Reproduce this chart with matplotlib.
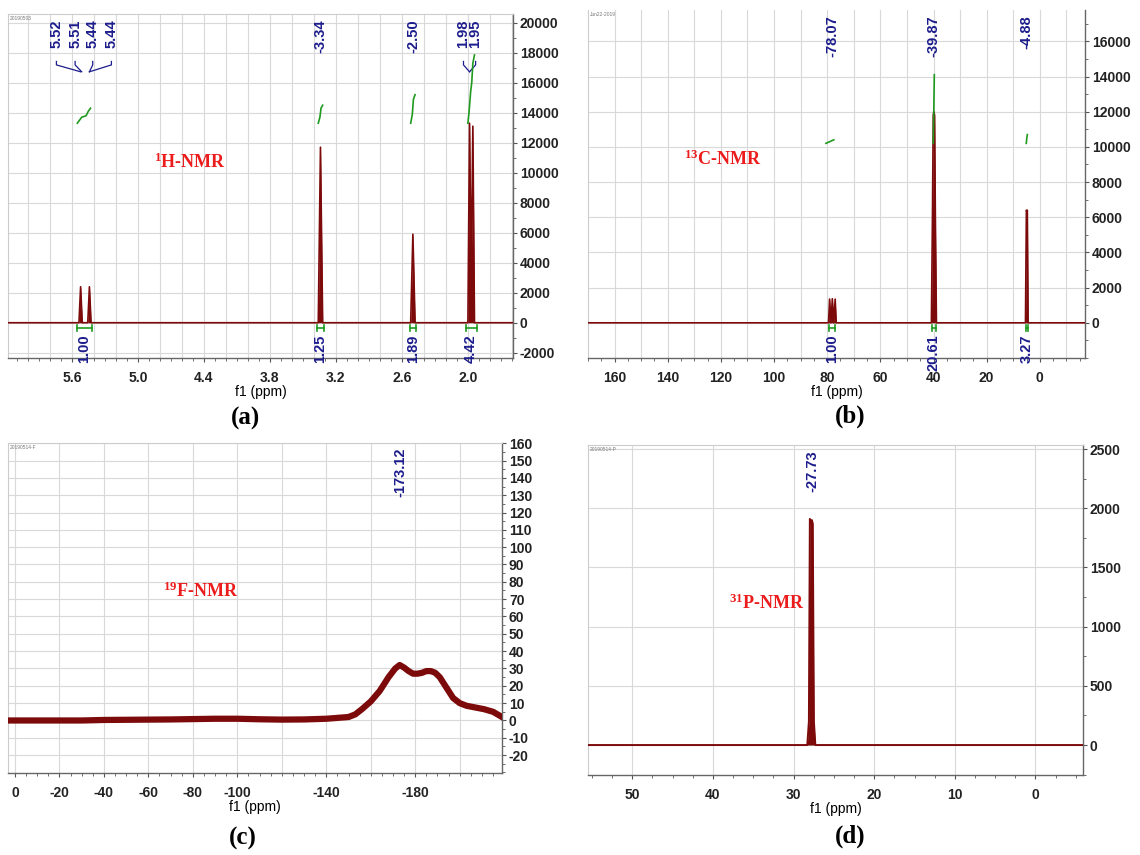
import numpy as np
import matplotlib.pyplot as plt
from matplotlib.ticker import MultipleLocator, FixedLocator

plt.rcParams['font.family'] = ['Liberation Sans', 'DejaVu Sans']
plt.rcParams['font.weight'] = 'bold'
plt.rcParams['axes.unicode_minus'] = False
plt.rcParams['mathtext.fontset'] = 'custom'
plt.rcParams['mathtext.rm'] = 'Liberation Serif:bold'
plt.rcParams['mathtext.it'] = 'Liberation Serif:bold'
plt.rcParams['mathtext.bf'] = 'Liberation Serif:bold'

# ---- (a) 1H-NMR ----
h_ppm = [6.18, 5.535, 5.52, 5.505, 5.455, 5.44, 5.425, 3.36, 3.34, 3.32,
         2.52, 2.50, 2.48, 2.00, 1.985, 1.97, 1.955, 1.94, 1.59]
h_int = [0, 0, 2400, 0, 0, 2400, 0, 0, 11700, 0,
         0, 5900, 0, 0, 13300, 3000, 13100, 0, 0]
h_integral_x = [[5.55, 5.53, 5.51, 5.47, 5.45, 5.43],
                [3.36, 3.345, 3.335, 3.32],
                [2.52, 2.505, 2.495, 2.48],
                [2.00, 1.99, 1.975, 1.965, 1.955, 1.94]]
h_integral_y = [[13300, 13500, 13700, 13800, 14100, 14300],
                [13300, 13700, 14300, 14500],
                [13300, 13900, 14900, 15200],
                [13300, 14000, 15400, 16000, 17300, 17850]]
h_int_labels = ["1.00", "1.25", "1.89", "4.42"]
h_int_ranges = [(5.55, 5.42), (3.37, 3.31), (2.53, 2.47), (2.02, 1.92)]
h_peak_labels = ["5.52", "5.51", "5.44", "5.44", "-3.34", "-2.50", "1.98", "1.95"]
h_peak_label_x = [5.74, 5.57, 5.41, 5.24, 3.34, 2.50, 2.04, 1.93]
h_peak_x = [5.52, 5.51, 5.44, 5.44, 3.34, 2.50, 1.985, 1.985]
h_xticks = [5.6, 5.0, 4.4, 3.8, 3.2, 2.6, 2.0]

# ---- (b) 13C-NMR ----
c_ppm = [170, 79.5, 79.1, 78.6, 78.07, 77.5, 77.0, 76.6, 40.8, 40.4, 40.1,
         39.87, 39.6, 39.3, 38.9, 5.4, 5.05, 4.88, 4.7, 4.4, -17]
c_int = [0, 0, 1350, 0, 1370, 0, 1350, 0, 0, 6000, 11800,
         12000, 11800, 6000, 0, 0, 6400, 6300, 6400, 0, 0]
c_integral_x = [[80.5, 77.5], [40.1, 39.9, 39.7], [5.1, 4.9, 4.7]]
c_integral_y = [[10200, 10400], [10200, 12000, 14100], [10200, 10500, 10700]]
c_int_labels = ["1.00", "20.61", "3.27"]
c_int_ranges = [(79.5, 77.0), (40.6, 39.2), (5.3, 4.5)]
c_peak_labels = ["-78.07", "-39.87", "-4.88"]
c_peak_x = [78.07, 39.87, 4.88]
c_xticks = [160, 140, 120, 100, 80, 60, 40, 20, 0]

# ---- (c) 19F-NMR ----
f_ppm = [3.1, -10, -20, -30, -40, -50, -60, -70, -80, -90, -100, -110, -120,
         -130, -140, -145, -150, -153, -156, -160, -164, -168, -171, -173,
         -175, -177, -179, -181, -183, -185, -187, -189, -191, -194, -197,
         -200, -203, -207, -211, -215, -219]
f_int = [0, 0, 0, 0, 0.3, 0.4, 0.5, 0.6, 0.8, 1.0, 1.0, 0.7, 0.5,
         0.6, 1.0, 1.5, 2.0, 3.5, 6.5, 11, 17, 25, 30, 32,
         30.5, 28.5, 27, 27, 27.5, 28.5, 28.5, 27.5, 25, 19, 13,
         10, 8.5, 7.5, 6.5, 5, 2]
f_xticks = [0, -20, -40, -60, -80, -100, -140, -180]
f_xticklabels = ["0", "-20", "-40", "-60", "-80", "-100", "-140", "-180"]
f_yticks = [-20, -10, 0, 10, 20, 30, 40, 50, 60, 70, 80, 90, 100, 110, 120,
            130, 140, 150, 160]

# ---- (d) 31P-NMR ----
p_ppm = [55.5, 45, 35, 28.3, 28.1, 27.98, 27.85, 27.73, 27.62, 27.48, 27.3,
         20, 10, 0, -5.9]
p_int = [0, 0, 0, 0, 200, 1910, 1880, 1900, 1870, 200, 0, 0, 0, 0, 0]
p_xticks = [50, 40, 30, 20, 10, 0]
p_yticks = [0, 500, 1000, 1500, 2000, 2500]

RED = '#7d0a0a'
GREEN = '#1f9a1f'
NAVY = '#1c1c8c'
GRID = '#d9d9d9'
TITLE_RED = '#ec1c1c'

W, H = 1140, 855
fig = plt.figure(figsize=(11.4, 8.55), dpi=100)


def box(l, t, r, b):
    return [l / W, 1 - b / H, (r - l) / W, (b - t) / H]


def setup(ax, xlim, ylim, xgrid, ygrid, xminor, yminor, height_px):
    ax.set_xlim(*xlim)
    ax.set_ylim(*ylim)
    for v in xgrid:
        ax.axvline(v, color=GRID, lw=0.8, zorder=0)
    for v in ygrid:
        ax.axhline(v, color=GRID, lw=0.8, zorder=0)
    ax.yaxis.tick_right()
    ax.xaxis.set_minor_locator(MultipleLocator(xminor))
    ax.yaxis.set_minor_locator(MultipleLocator(yminor))
    ax.tick_params(which='both', direction='out', colors='#555555',
                   labelcolor='#222222', labelsize=10)
    ax.tick_params(axis='x', pad=6)
    ax.tick_params(axis='y', pad=2)
    ax.tick_params(which='major', length=3)
    ax.tick_params(which='minor', length=2)
    for s in ['left', 'top']:
        ax.spines[s].set_color('#cccccc')
        ax.spines[s].set_linewidth(0.8)
    for s in ['right', 'bottom']:
        ax.spines[s].set_color('#666666')
        ax.spines[s].set_linewidth(1.0)
    ax.set_xlabel('f1 (ppm)', fontsize=10)
    ax.xaxis.set_label_coords(0.5, -27 / height_px)


def spectrum(ax, x, y, lw):
    ax.plot(x, y, color=RED, lw=lw, zorder=3)
    ax.fill_between(x, y, 0, color=RED, lw=0, zorder=3)


def integrals(ax, xs, ys, labels, ranges, ybar, dy, ytext):
    for x, y in zip(xs, ys):
        ax.plot(x, y, color=GREEN, lw=1.2, zorder=4)
    for lab, (x1, x2) in zip(labels, ranges):
        ax.plot([x1, x2], [ybar, ybar], color=GREEN, lw=1.2, clip_on=False, zorder=4)
        ax.plot([x1, x1], [ybar - dy, ybar + dy], color=GREEN, lw=1.2, clip_on=False, zorder=4)
        ax.plot([x2, x2], [ybar - dy, ybar + dy], color=GREEN, lw=1.2, clip_on=False, zorder=4)
        ax.text((x1 + x2) / 2, ytext, lab, rotation=90, ha='center', va='top',
                color=NAVY, fontsize=10.5, clip_on=False, zorder=5)


def date(ax, s):
    ax.text(0.004, 0.995, s, transform=ax.transAxes, fontsize=3.5,
            color='#777777', va='top', ha='left', weight='normal')


def title(ax, x, y, s):
    ax.text(x, y, s, transform=ax.transAxes, ha='center', va='center',
            color=TITLE_RED, fontsize=13, family='Liberation Serif', weight='bold')


# ---------------- (a) ----------------
ax = fig.add_axes(box(8, 14, 513, 358))
setup(ax, (6.18, 1.59), (-2350, 20580), np.arange(6.0, 1.5, -0.2),
      range(-2000, 20001, 2000), 0.1, 1000, 344)
ax.xaxis.set_major_locator(FixedLocator(h_xticks))
ax.set_xticklabels([f"{v:.1f}" for v in h_xticks])
ax.yaxis.set_major_locator(MultipleLocator(2000))
spectrum(ax, h_ppm, h_int, 1.2)
integrals(ax, h_integral_x, h_integral_y, h_int_labels, h_int_ranges, -370, 200, -800)
tr = ax.get_xaxis_transform()
for lab, lx, px in zip(h_peak_labels, h_peak_label_x, h_peak_x):
    ax.text(lx, 0.985, lab, transform=tr, rotation=90, ha='center', va='top',
            color=NAVY, fontsize=10.5, zorder=5)
    if not lab.startswith('-'):
        ax.plot([lx, lx, px], [0.862, 0.852, 0.832], transform=tr, color=NAVY, lw=0.9)
title(ax, 0.36, 0.57, r'$^{1}$H-NMR')
date(ax, '20190503')

# ---------------- (b) ----------------
ax = fig.add_axes(box(588, 10, 1085, 358))
setup(ax, (170, -17), (-2000, 17780), range(160, -11, -10),
      range(0, 16001, 2000), 5, 1000, 348)
ax.xaxis.set_major_locator(FixedLocator(c_xticks))
ax.yaxis.set_major_locator(FixedLocator(list(range(0, 16001, 2000))))
ax.spines['top'].set_visible(False)
spectrum(ax, c_ppm, c_int, 1.2)
integrals(ax, c_integral_x, c_integral_y, c_int_labels, c_int_ranges, -300, 170, -650)
tr = ax.get_xaxis_transform()
for lab, px in zip(c_peak_labels, c_peak_x):
    ax.text(px, 0.985, lab, transform=tr, rotation=90, ha='center', va='top',
            color=NAVY, fontsize=10.5, zorder=5)
title(ax, 0.27, 0.57, r'$^{13}$C-NMR')
date(ax, 'Jun22-2019')

# ---------------- (c) ----------------
ax = fig.add_axes(box(8, 443, 502, 773))
setup(ax, (3.1, -219), (-30.3, 160.1), range(0, -201, -20), f_yticks, 5, 5, 330)
ax.xaxis.set_major_locator(FixedLocator(f_xticks))
ax.set_xticklabels(f_xticklabels)
ax.yaxis.set_major_locator(FixedLocator(f_yticks))
ax.plot(f_ppm, f_int, color=RED, lw=4.5, zorder=3, solid_joinstyle='round')
ax.text(-173.12, 0.985, '-173.12', transform=ax.get_xaxis_transform(), rotation=90,
        ha='center', va='top', color=NAVY, fontsize=10.5)
title(ax, 0.39, 0.55, r'$^{19}$F-NMR')
date(ax, '20190514-F')

# ---------------- (d) ----------------
ax = fig.add_axes(box(588, 445, 1083, 775))
setup(ax, (55.5, -5.9), (-253, 2534), range(50, -1, -10), p_yticks, 2.5, 250, 330)
ax.xaxis.set_major_locator(FixedLocator(p_xticks))
ax.yaxis.set_major_locator(FixedLocator(p_yticks))
spectrum(ax, p_ppm, p_int, 1.4)
ax.text(27.73, 0.985, '-27.73', transform=ax.get_xaxis_transform(), rotation=90,
        ha='center', va='top', color=NAVY, fontsize=10.5)
title(ax, 0.36, 0.52, r'$^{31}$P-NMR')
date(ax, '20190514-P')

# panel captions
for s, x, y in [('(a)', 245, 418), ('(b)', 850, 416), ('(c)', 243, 838), ('(d)', 850, 836)]:
    fig.text(x / W, 1 - y / H, s, ha='center', va='center', fontsize=18,
             family='Liberation Serif', weight='bold')

fig.savefig('out.png', dpi=100)
